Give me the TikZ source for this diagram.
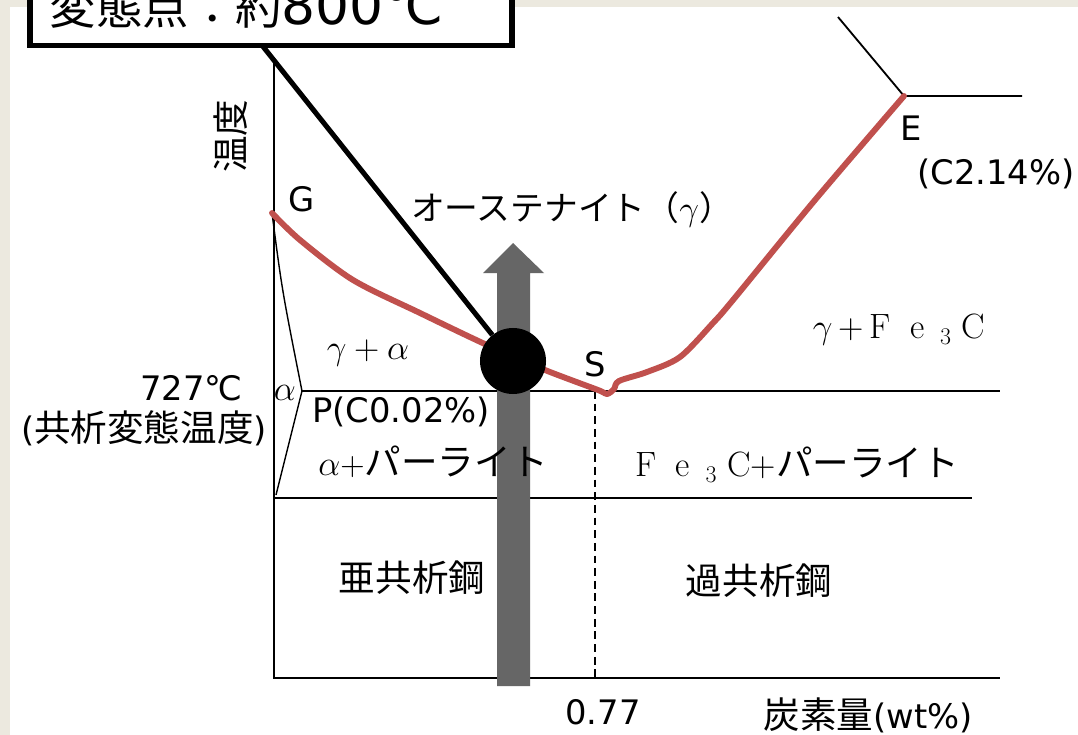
\documentclass[tikz,border=0pt]{standalone}
\usepackage{fontspec}
\usetikzlibrary{positioning}
\newfontfamily\jpfont{Noto Sans CJK JP}
\newfontfamily\dvfont{DejaVu Sans}
\definecolor{frameBeige}{RGB}{236,233,223}
\definecolor{lineRed}{RGB}{192,80,77}
\definecolor{arrowGray}{RGB}{102,102,102}
\newcommand{\jtxt}[1]{{\jpfont\fontsize{26}{30}\selectfont #1}}
\newcommand{\fethreec}{F\hspace{0.55em}e\hspace{0.45em}\raisebox{-0.35ex}{\fontsize{17}{17}\selectfont 3}\hspace{0.3em}C}

\begin{document}
\begin{tikzpicture}[x=0.025cm, y=-0.025cm,
    lbl/.style={font=\dvfont\fontsize{24}{28}\selectfont, inner sep=0pt},
    axisline/.style={line width=1.3pt},
    thinline/.style={line width=1pt},
    redline/.style={lineRed, line width=4.2pt, line cap=round, line join=round},
    leader/.style={line width=3.6pt},
    dot/.style={circle, fill=black, minimum size=1.65cm, inner sep=0pt},
    titlebox/.style={draw, fill=white, line width=4pt, outer sep=0pt, inner xsep=0.5cm,
      text width=11.05cm, align=left, minimum height=2.15cm, text height=1.3cm, text depth=0.175cm}]
\clip (0,0) rectangle (1078,735);
\fill[white] (0,0) rectangle (1078,735);
\fill[frameBeige] (0,0) rectangle (1078,7);
\fill[frameBeige] (0,0) rectangle (10,735);

\coordinate (G) at (272,213);
\coordinate (P) at (302,391);
\coordinate (S) at (607,394);
\coordinate (E) at (904,96);

\draw[axisline] (274,60) -- (274,678) -- (1000,678);
\draw[axisline] (P) -- (1000,391);
\draw[axisline] (274,498) -- (972,498);
\draw[axisline, dash pattern=on 5.5pt off 3.5pt] (595,391) -- (595,678);
\draw[thinline] (G) .. controls (282,290) .. (P) -- (276,495);
\draw[axisline] (838,17) -- (E) -- (1022,96);
\draw[redline] plot[smooth, tension=0.5] coordinates {(G) (300,240) (353,280) (420,313) (487,345)
  (545,370) (598,390) (S) (614,389) (619,381) (647,372) (680,357) (713,323) (733,300) (815,200) (E)};

\fill[arrowGray] (497,686) -- (497,273) -- (483,273) -- (513,243) -- (544,273) -- (530,273) -- (530,686) -- cycle;

\node[dot] (dot) at (513,361) {};
\node[titlebox, anchor=south] (box) at (271,45.5)
  {{\jpfont\fontsize{33}{38}\selectfont 変態点：約}{\dvfont\fontsize{38}{40}\selectfont 800℃}};
\draw[leader] (dot) -- ([xshift=-0.22cm]box.south);

\node[lbl] (gLbl) at (302,199) {G};
\node[lbl] (austLbl) at (572,209) {{\jpfont\fontsize{24}{28}\selectfont オーステナイト（$\gamma$）}};
\node[lbl] (gaLbl) at (368,353) {$\gamma+\alpha$};
\node[lbl] (sLbl) at (595,364) {S};
\node[lbl] (gfLbl) at (899,330) {{\rmfamily\fontsize{25}{28}\selectfont $\gamma$\,+\,\fethreec}};
\node[lbl] (eLbl) at (911,128) {E};
\node[lbl] (ecLbl) at (996,174) {(C2.14\%)};
\node[lbl, anchor=east] (tLbl) at (243,388) {727℃};
\node[lbl] (tcLbl) at (144,428) {(\jtxt{共析変態温度})};
\node[lbl] (aLbl) at (285,393) {$\alpha$};
\node[lbl] (pLbl) at (401,412) {P(C0.02\%)};
\node[lbl] (apLbl) at (433,462) {{\rmfamily\fontsize{24}{28}\selectfont $\alpha$+}\jtxt{パーライト}};
\node[lbl] (fpLbl) at (797,465) {{\rmfamily\fontsize{25}{28}\selectfont \fethreec+}\jtxt{パーライト}};
\node[lbl] (hypoLbl) at (412,578) {\jtxt{亜共析鋼}};
\node[lbl] (hyperLbl) at (759,581) {\jtxt{過共析鋼}};
\node[lbl] (xtick) at (603,712) {0.77};
\node[lbl] (xLbl) at (868,715) {\jtxt{炭素量}(wt\%)};
\node[lbl, rotate=90] (yLbl) at (231,136) {\jtxt{温度}};
\end{tikzpicture}
\end{document}
